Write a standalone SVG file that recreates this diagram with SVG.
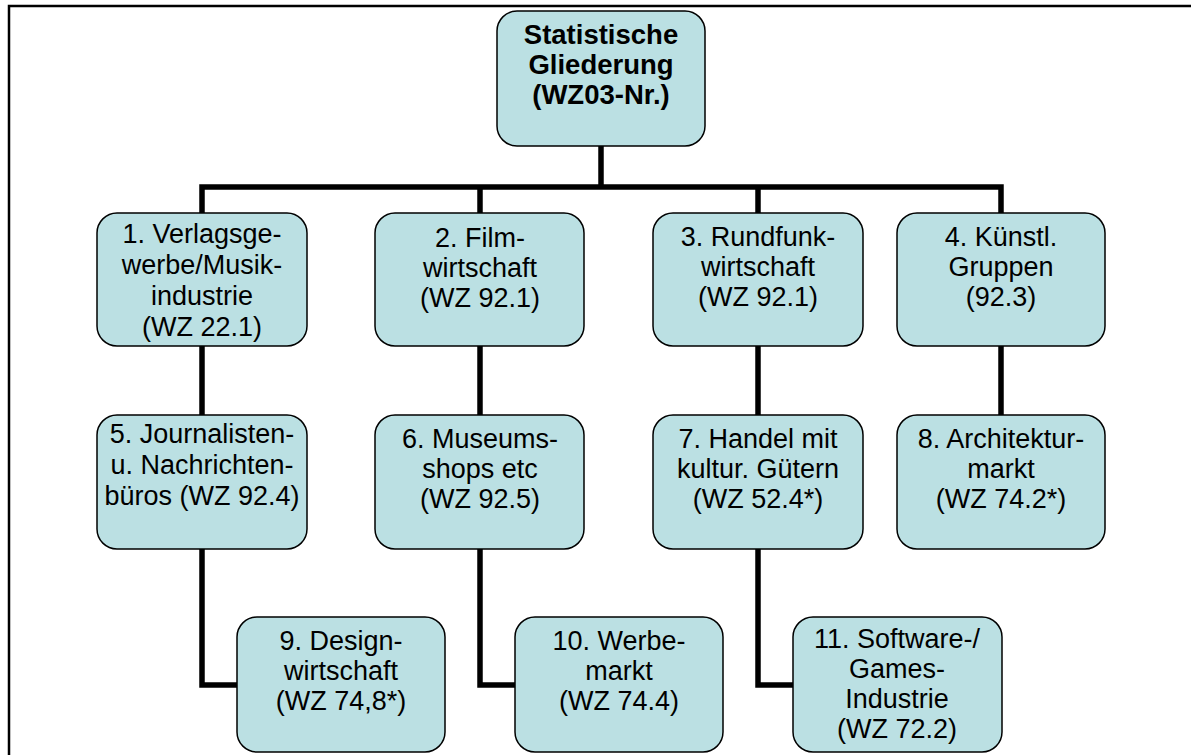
<svg xmlns="http://www.w3.org/2000/svg" width="1191" height="755" viewBox="0 0 1191 755">
<style>
.n{fill:#BBE0E3;stroke:#000;stroke-width:1.5}
.t{font-family:"Liberation Sans",Arial,sans-serif;font-size:27px;fill:#000;text-anchor:middle}
.b{font-weight:bold;font-size:27.5px}
.c{fill:none;stroke:#000;stroke-width:5.5;stroke-linejoin:miter}
</style>
<rect x="0" y="0" width="1191" height="755" fill="#fff"/>
<path d="M9,760 V6 H1200" fill="none" stroke="#000" stroke-width="2.5"/>
<g id="connectors">
<path class="c" d="M601,146 V187"/>
<path class="c" d="M202,213 V187 H1001 V213"/>
<path class="c" d="M480,187 V213"/>
<path class="c" d="M758,187 V213"/>
<path class="c" d="M202,346 V415"/>
<path class="c" d="M480,346 V415"/>
<path class="c" d="M758,346 V415"/>
<path class="c" d="M1001,346 V415"/>
<path class="c" d="M202,549 V685 H237"/>
<path class="c" d="M480,549 V685 H515"/>
<path class="c" d="M758,549 V685 H793"/>
</g>
<g id="root">
<rect class="n" x="497" y="11" width="208" height="135" rx="20"/>
<text class="t b" x="601" y="44">Statistische</text>
<text class="t b" x="601" y="74">Gliederung</text>
<text class="t b" x="601" y="104">(WZ03-Nr.)</text>
</g>
<g id="n1">
<rect class="n" x="97" y="213" width="210" height="133" rx="20"/>
<text class="t" x="202" y="243">1. Verlagsge-</text>
<text class="t" x="202" y="274">werbe/Musik-</text>
<text class="t" x="202" y="305">industrie</text>
<text class="t" x="202" y="336">(WZ 22.1)</text>
</g>
<g id="n2">
<rect class="n" x="375" y="213" width="209" height="133" rx="20"/>
<text class="t" x="480" y="247">2. Film-</text>
<text class="t" x="480" y="277">wirtschaft</text>
<text class="t" x="480" y="307">(WZ 92.1)</text>
</g>
<g id="n3">
<rect class="n" x="653" y="213" width="210" height="133" rx="20"/>
<text class="t" x="758" y="246">3. Rundfunk-</text>
<text class="t" x="758" y="276">wirtschaft</text>
<text class="t" x="758" y="306">(WZ 92.1)</text>
</g>
<g id="n4">
<rect class="n" x="897" y="213" width="208" height="133" rx="20"/>
<text class="t" x="1001" y="246">4. Künstl.</text>
<text class="t" x="1001" y="276">Gruppen</text>
<text class="t" x="1001" y="306">(92.3)</text>
</g>
<g id="n5">
<rect class="n" x="97" y="415" width="210" height="134" rx="20"/>
<text class="t" x="202" y="443">5. Journalisten-</text>
<text class="t" x="202" y="474">u. Nachrichten-</text>
<text class="t" x="202" y="505">büros (WZ 92.4)</text>
</g>
<g id="n6">
<rect class="n" x="375" y="415" width="209" height="134" rx="20"/>
<text class="t" x="480" y="448">6. Museums-</text>
<text class="t" x="480" y="478">shops etc</text>
<text class="t" x="480" y="508">(WZ 92.5)</text>
</g>
<g id="n7">
<rect class="n" x="653" y="415" width="210" height="134" rx="20"/>
<text class="t" x="758" y="448">7. Handel mit</text>
<text class="t" x="758" y="478">kultur. Gütern</text>
<text class="t" x="758" y="508">(WZ 52.4*)</text>
</g>
<g id="n8">
<rect class="n" x="897" y="415" width="208" height="134" rx="20"/>
<text class="t" x="1001" y="448">8. Architektur-</text>
<text class="t" x="1001" y="478">markt</text>
<text class="t" x="1001" y="508">(WZ 74.2*)</text>
</g>
<g id="n9">
<rect class="n" x="237" y="617" width="208" height="135" rx="20"/>
<text class="t" x="341" y="650">9. Design-</text>
<text class="t" x="341" y="680">wirtschaft</text>
<text class="t" x="341" y="710">(WZ 74,8*)</text>
</g>
<g id="n10">
<rect class="n" x="515" y="617" width="208" height="135" rx="20"/>
<text class="t" x="619" y="650">10. Werbe-</text>
<text class="t" x="619" y="680">markt</text>
<text class="t" x="619" y="710">(WZ 74.4)</text>
</g>
<g id="n11">
<rect class="n" x="793" y="617" width="209" height="135" rx="20"/>
<text class="t" x="897" y="648">11. Software-/</text>
<text class="t" x="897" y="678">Games-</text>
<text class="t" x="897" y="708">Industrie</text>
<text class="t" x="897" y="738">(WZ 72.2)</text>
</g>
</svg>
